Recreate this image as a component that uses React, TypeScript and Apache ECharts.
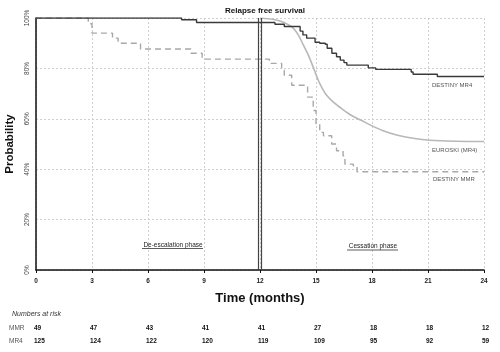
import React, { useEffect, useRef } from "react";
import * as echarts from "echarts";

const months = [0, 3, 6, 9, 12, 15, 18, 21, 24];
const mmrAtRisk = [49, 47, 43, 41, 41, 27, 18, 18, 12];
const mr4AtRisk = [125, 124, 122, 120, 119, 109, 95, 92, 59];

const destinyMR4: [number, number][] = [
  [0, 100], [7.8, 99.3], [8.6, 98.2], [12.8, 97.5], [13.3, 96.6], [14.15, 94.8],
  [14.3, 93.3], [14.5, 92], [14.95, 90.4], [15.2, 90], [15.5, 89.6],
  [15.6, 88], [15.85, 86], [16.1, 84.6], [16.3, 83.3], [16.5, 82.3], [16.65, 81.3],
  [17.8, 80.2], [18.2, 79.6], [20.1, 78.6], [20.2, 77.7], [21.5, 76.8], [24, 76.8],
];

const destinyMMR: [number, number][] = [
  [0, 100], [2.8, 97.7], [3.0, 94], [4.1, 92], [4.4, 90], [5.6, 87.7], [8.3, 86],
  [8.9, 83.7], [12.5, 82], [13.16, 79.3], [13.3, 77.3], [13.7, 73.3], [14.55, 68.6],
  [14.85, 63.3], [15.0, 58], [15.2, 54.6], [15.4, 53.3], [15.84, 50], [16.1, 47.3],
  [16.45, 45.3], [16.55, 42], [17.0, 41.3], [17.2, 39], [24, 39],
];

const euroSKI: [number, number][] = [
  [12, 100], [12.8, 99.3], [13.34, 98], [13.78, 96], [14.05, 93.3], [14.32, 89.3],
  [14.59, 85.3], [14.77, 82], [14.95, 78.6], [15.12, 75.3], [15.3, 72.6], [15.57, 69.3],
  [15.93, 66.6], [16.38, 64], [16.91, 61.3], [17.45, 59.3], [17.98, 57.3], [18.6, 55.3],
  [19.32, 53.6], [20.2, 52.3], [21.1, 51.5], [22.5, 51.1], [24, 51],
];

const cessationMarks = [11.9, 12.06];

const FONT = "'Liberation Sans', Arial, sans-serif";

export default function App() {
  const ref = useRef<HTMLDivElement>(null);
  useEffect(() => {
    if (!ref.current) return;
    const chart = echarts.init(ref.current, null, { renderer: "svg" });
    const option: any = {
      animation: false,
      textStyle: { fontFamily: FONT },
      title: {
        text: "Relapse free survival",
        left: 260,
        top: 1,
        textAlign: "center",
        textStyle: { fontSize: 8, fontWeight: "bold", color: "#111", fontFamily: FONT },
      },
      grid: { left: 36, right: 16, top: 18, bottom: 82, containLabel: false, outerBoundsMode: "none" },
      xAxis: {
        type: "value",
        min: 0,
        max: 24,
        interval: 3,
        name: "Time (months)",
        nameLocation: "middle",
        nameGap: 21,
        nameTextStyle: { fontSize: 13, fontWeight: "bold", color: "#111", fontFamily: FONT },
        axisLine: { show: true, lineStyle: { color: "#111", width: 1.5 } },
        axisTick: { show: true, length: 3, lineStyle: { color: "#111" } },
        axisLabel: { fontSize: 6.5, color: "#222", margin: 7, fontWeight: "bold" },
        splitLine: { show: true, lineStyle: { color: "#cfcfcf", type: [2, 2], width: 1 } },
      },
      yAxis: {
        type: "value",
        min: 0,
        max: 100,
        interval: 20,
        name: "Probability",
        nameLocation: "middle",
        nameGap: 20,
        nameRotate: 90,
        nameTextStyle: { fontSize: 11.5, fontWeight: "bold", color: "#111", fontFamily: FONT },
        axisLine: { show: true, lineStyle: { color: "#111", width: 1.5 } },
        axisTick: { show: false },
        axisLabel: { fontSize: 6.5, color: "#444", rotate: 90, margin: 6, formatter: "{value}%" },
        splitLine: { show: true, lineStyle: { color: "#cfcfcf", type: [2, 2], width: 1 } },
      },
      series: [
        {
          name: "EUROSKI (MR4)",
          type: "line",
          data: euroSKI,
          smooth: 0.3,
          showSymbol: false,
          lineStyle: { color: "#b8b8b8", width: 1.6 },
          z: 2,
        },
        {
          name: "DESTINY MMR",
          type: "line",
          data: destinyMMR,
          step: "end",
          showSymbol: false,
          lineStyle: { color: "#a8a8a8", width: 1.4, type: [6, 4] },
          z: 3,
        },
        {
          name: "DESTINY MR4",
          type: "line",
          data: destinyMR4,
          step: "end",
          showSymbol: false,
          lineStyle: { color: "#3a3a3a", width: 1.4 },
          z: 4,
          markLine: {
            silent: true,
            symbol: "none",
            label: { show: false },
            lineStyle: { color: "#444", width: 1.2, type: "solid" },
            data: cessationMarks.map((v) => ({ xAxis: v })),
          },
        },
      ],
    };
    chart.setOption(option);

    const graphics: any[] = [];
    const label = (text: string, x: number, y: number, extra: any = {}) =>
      graphics.push({
        type: "text",
        x,
        y,
        style: { text, fontFamily: FONT, fontSize: 6, fill: "#555", textVerticalAlign: "middle", ...extra },
      });

    label("DESTINY MR4", 432, 85);
    label("EUROSKI (MR4)", 432, 150);
    label("DESTINY MMR", 433, 179);

    label("De-escalation phase", 173, 244, { textAlign: "center", fontSize: 6.5, fill: "#222" });
    graphics.push({ type: "line", shape: { x1: 142, y1: 248.5, x2: 203, y2: 248.5 }, style: { stroke: "#333", lineWidth: 0.8 } });
    label("Cessation phase", 373, 245, { textAlign: "center", fontSize: 6.5, fill: "#222" });
    graphics.push({ type: "line", shape: { x1: 347, y1: 250, x2: 398, y2: 250 }, style: { stroke: "#333", lineWidth: 0.8 } });

    label("Numbers at risk", 12, 313, { fontSize: 7, fontStyle: "italic", fill: "#333" });
    label("MMR", 9, 327, { fontSize: 6.5, fill: "#555" });
    label("MR4", 9, 340, { fontSize: 6.5, fill: "#555" });

    months.forEach((m, i) => {
      const p = chart.convertToPixel({ gridIndex: 0 }, [m, 0]) as number[];
      label(String(mmrAtRisk[i]), p[0] - 2, 327, { fontSize: 6.5, fill: "#111", fontWeight: "bold" });
      label(String(mr4AtRisk[i]), p[0] - 2, 340, { fontSize: 6.5, fill: "#111", fontWeight: "bold" });
    });

    chart.setOption({ graphic: graphics });
    return () => chart.dispose();
  }, []);
  return <div ref={ref} style={{ position: "fixed", left: 0, top: 0, width: 500, height: 352 }} />;
}
